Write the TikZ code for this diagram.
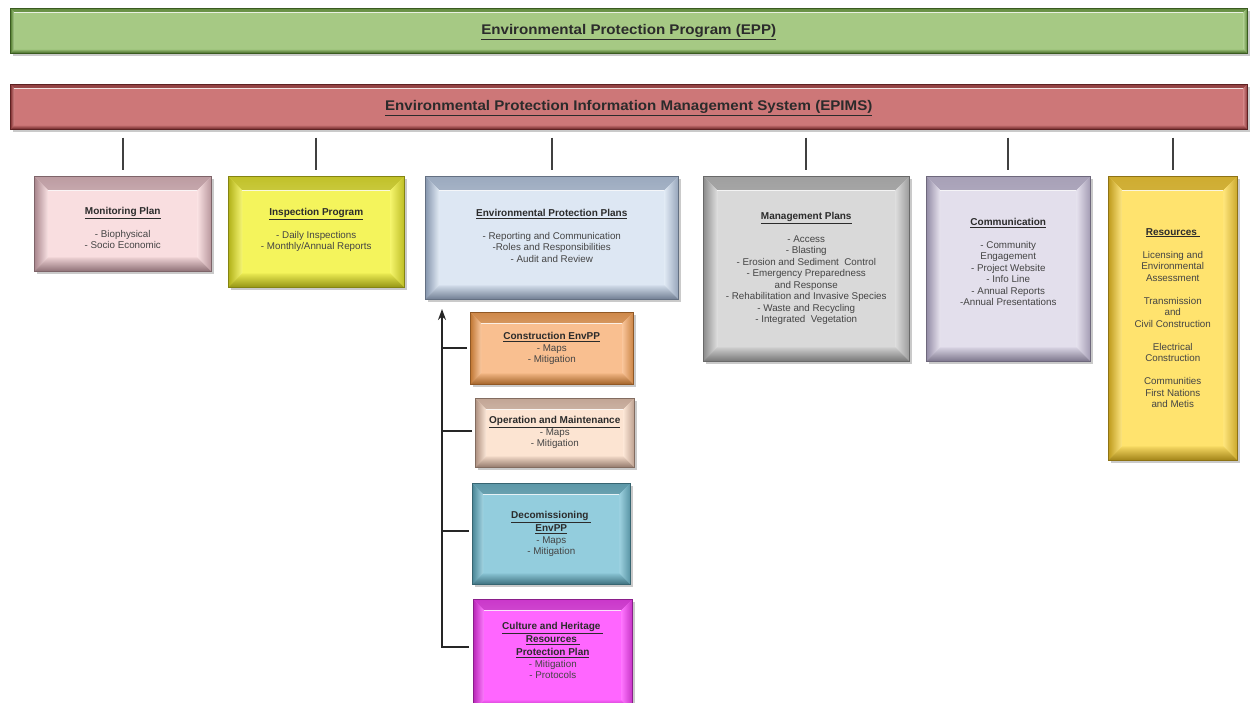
\documentclass[tikz,border=0pt]{standalone}
\usepackage{fontspec}
\setmainfont{Liberation Sans}
\newfontfamily\barfont[FakeStretch=1.08]{Liberation Sans}
\usetikzlibrary{shadows,arrows.meta}
\definecolor{eppf}{HTML}{A6C984}\definecolor{eppe}{HTML}{4E7A2A}
\definecolor{epimsf}{HTML}{CD7778}\definecolor{epimse}{HTML}{7E2C2D}
\definecolor{monf}{HTML}{F9DEE0}\definecolor{mone}{HTML}{A8858C}
\definecolor{inspf}{HTML}{F4F45C}\definecolor{inspe}{HTML}{B0B018}
\definecolor{epppf}{HTML}{DDE7F3}\definecolor{epppe}{HTML}{8595AD}
\definecolor{mgmtf}{HTML}{D9D9D9}\definecolor{mgmte}{HTML}{8C8C8C}
\definecolor{commf}{HTML}{E3DFEC}\definecolor{comme}{HTML}{938BA5}
\definecolor{resf}{HTML}{FFE36E}\definecolor{rese}{HTML}{BE9A1C}
\definecolor{consf}{HTML}{F9BF90}\definecolor{conse}{HTML}{C07632}
\definecolor{operf}{HTML}{FCE4D2}\definecolor{opere}{HTML}{AE9080}
\definecolor{decomf}{HTML}{93CDDD}\definecolor{decome}{HTML}{4A8696}
\definecolor{cultf}{HTML}{FF66FF}\definecolor{culte}{HTML}{B828B8}
\definecolor{titlecol}{HTML}{2B2B2B}
\definecolor{bodycol}{HTML}{444444}
\newcommand{\ttl}[1]{{\fontsize{10}{11.5}\selectfont\bfseries\color{titlecol}\underline{#1}}}
\tikzset{
  bw/.store in=\bevw, bw=12pt,
  bevelbox/.style 2 args={rectangle, anchor=north west, draw=#2!75!black, line width=0.5pt, fill=#1,
    drop shadow={shadow xshift=2.5pt, shadow yshift=-2.5pt, opacity=0.35, fill=black!60},
    path picture={
      \shade[top color=#2!75!#1, bottom color=#1!40!white]
        (path picture bounding box.north west) -- (path picture bounding box.north east)
        -- ([xshift=-\bevw,yshift=-\bevw]path picture bounding box.north east)
        -- ([xshift=\bevw,yshift=-\bevw]path picture bounding box.north west) -- cycle;
      \shade[left color=#2, right color=#1!85!white]
        (path picture bounding box.north west) -- ([xshift=\bevw,yshift=-\bevw]path picture bounding box.north west)
        -- ([xshift=\bevw,yshift=\bevw]path picture bounding box.south west)
        -- (path picture bounding box.south west) -- cycle;
      \shade[left color=#1!90!white, right color=#2!80!#1]
        (path picture bounding box.north east) -- ([xshift=-\bevw,yshift=-\bevw]path picture bounding box.north east)
        -- ([xshift=-\bevw,yshift=\bevw]path picture bounding box.south east)
        -- (path picture bounding box.south east) -- cycle;
      \shade[top color=#1!85!#2, bottom color=#2!85!black]
        (path picture bounding box.south west) -- ([xshift=\bevw,yshift=\bevw]path picture bounding box.south west)
        -- ([xshift=-\bevw,yshift=\bevw]path picture bounding box.south east)
        -- (path picture bounding box.south east) -- cycle;
      \draw[white, opacity=0.8, line width=1pt]
        ([xshift=\bevw,yshift=-\bevw-0.5pt]path picture bounding box.north west)
        -- ([xshift=-\bevw,yshift=-\bevw-0.5pt]path picture bounding box.north east);
    }},
  bartext/.style={font=\barfont\fontsize{14}{16}\selectfont\bfseries, text=titlecol, inner sep=0pt},
  boxtext/.style={anchor=north, align=center, inner sep=0pt, text=bodycol, font=\fontsize{9.8}{11.5}\selectfont},
  conn/.style={draw=black!75, line width=2pt, shorten <=8pt, shorten >=6pt},
  tree/.style={draw=black!85, line width=1.8pt},
}
\begin{document}
\begin{tikzpicture}[x=1pt, y=-1pt]
\useasboundingbox (0,0) rectangle (1250,702);
% top bars
\node[bevelbox={eppf}{eppe}, bw=4pt, minimum width=1237pt, minimum height=45pt] (epp) at (10,8) {};
\node[bartext] (epp-t) at ([yshift=-1.5pt]epp.center) {\underline{Environmental Protection Program (EPP)}};
\node[bevelbox={epimsf}{epimse}, bw=4pt, minimum width=1237pt, minimum height=45pt] (epims) at (10,84) {};
\node[bartext] (epims-t) at ([yshift=-1pt]epims.center) {\underline{Environmental Protection Information Management System (EPIMS)}};
% main boxes
\node[bevelbox={monf}{mone}, bw=14pt, minimum width=177pt, minimum height=95pt] (mon) at (34,176) {};
\node[bevelbox={inspf}{inspe}, bw=14pt, minimum width=176pt, minimum height=111pt] (insp) at (228,176) {};
\node[bevelbox={epppf}{epppe}, bw=14pt, minimum width=253pt, minimum height=123pt] (eppp) at (425,176) {};
\node[bevelbox={mgmtf}{mgmte}, bw=14pt, minimum width=206pt, minimum height=185pt] (mgmt) at (703,176) {};
\node[bevelbox={commf}{comme}, bw=14pt, minimum width=164pt, minimum height=185pt] (comm) at (926,176) {};
\node[bevelbox={resf}{rese}, bw=14pt, minimum width=129pt, minimum height=284pt] (res) at (1108,176) {};
% sub boxes
\node[bevelbox={consf}{conse}, bw=11pt, minimum width=163pt, minimum height=72pt] (cons) at (470,312) {};
\node[bevelbox={operf}{opere}, bw=11pt, minimum width=159pt, minimum height=69pt] (oper) at (475,398) {};
\node[bevelbox={decomf}{decome}, bw=11pt, minimum width=158pt, minimum height=101pt] (decom) at (472,483) {};
\node[bevelbox={cultf}{culte}, bw=11pt, minimum width=159pt, minimum height=112pt] (cult) at (473,599) {};
% texts
\node[boxtext] (mon-t) at ([yshift=-31pt]mon.north) {\ttl{Monitoring Plan}\\[11.5pt]- Biophysical\\- Socio Economic};
\node[boxtext] (insp-t) at ([yshift=-32pt]insp.north) {\ttl{Inspection Program}\\[11.5pt]- Daily Inspections\\- Monthly/Annual Reports};
\node[boxtext] (eppp-t) at ([yshift=-33pt]eppp.north) {\ttl{Environmental Protection Plans}\\[11.5pt]- Reporting and Communication\\-Roles and Responsibilities\\- Audit and Review};
\node[boxtext] (mgmt-t) at ([yshift=-36pt]mgmt.north) {\ttl{Management Plans}\\[11.5pt]- Access\\- Blasting\\- Erosion and Sediment\ \ Control\\- Emergency Preparedness\\and Response\\- Rehabilitation and Invasive Species\\- Waste and Recycling\\- Integrated\ \ Vegetation};
\node[boxtext] (comm-t) at ([yshift=-42pt]comm.north) {\ttl{Communication}\\[11.5pt]- Community\\Engagement\\- Project Website\\- Info Line\\- Annual Reports\\-Annual Presentations};
\node[boxtext] (res-t) at ([yshift=-52pt]res.north) {\ttl{Resources\ }\\[11.5pt]Licensing and\\Environmental\\Assessment\\[11.5pt]Transmission\\and\\Civil Construction\\[11.5pt]Electrical\\Construction\\[11.5pt]Communities\\First Nations\\and Metis};
\node[boxtext] (cons-t) at ([yshift=-20pt]cons.north) {\ttl{Construction EnvPP}\\[0.5pt]- Maps\\- Mitigation};
\node[boxtext] (oper-t) at ([yshift=-18pt]oper.north) {\ttl{Operation and Maintenance}\\[0.5pt]- Maps\\- Mitigation};
\node[boxtext] (decom-t) at ([yshift=-28pt]decom.north) {\ttl{Decomissioning\ }\\[1.5pt]\ttl{EnvPP}\\[0.5pt]- Maps\\- Mitigation};
\node[boxtext] (cult-t) at ([yshift=-23pt]cult.north) {\ttl{Culture and Heritage\ }\\[1.5pt]\ttl{Resources\ }\\[1.5pt]\ttl{Protection Plan}\\[0.5pt]- Mitigation\\- Protocols};
% connectors from EPIMS
\foreach \b in {mon,insp,eppp,mgmt,comm,res}
  \draw[conn] (epims.south -| \b.north) -- (\b.north);
% tree
\coordinate (trunktop) at (442,309);
\draw[tree, -{Stealth[length=11pt,width=8pt]}] ([xshift=-4pt,yshift=8pt]cult.west) -| (trunktop);
\draw[tree] ([xshift=-3pt]cons.west) -- (cons.west -| trunktop);
\draw[tree] ([xshift=-3pt,yshift=2pt]oper.west) -- ([yshift=2pt]oper.west -| trunktop);
\draw[tree] ([xshift=-3pt,yshift=3pt]decom.west) -- ([yshift=3pt]decom.west -| trunktop);
\end{tikzpicture}
\end{document}
